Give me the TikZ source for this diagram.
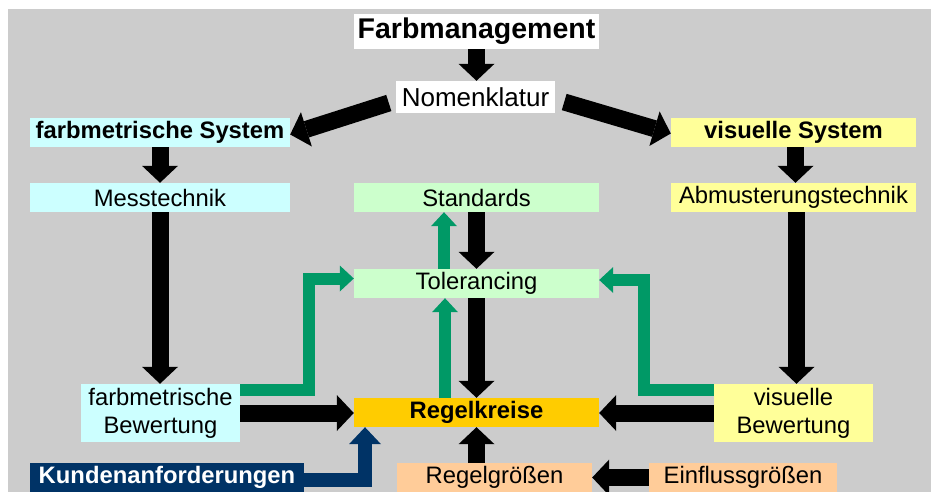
\documentclass[tikz,border=0pt]{standalone}
\usepackage{fontspec}
\setmainfont{Liberation Sans}
\usepackage{tikz}
\usepackage{xcolor}
\usetikzlibrary{arrows.meta}
\definecolor{fmgray}{HTML}{CCCCCC}
\definecolor{fmcyan}{HTML}{CCFFFF}
\definecolor{fmyellow}{HTML}{FFFF99}
\definecolor{fmmint}{HTML}{CCFFCC}
\definecolor{fmgold}{HTML}{FFCC00}
\definecolor{fmpeach}{HTML}{FFCC99}
\definecolor{fmnavy}{HTML}{003366}
\definecolor{fmgreen}{HTML}{009966}
\tikzset{
  box/.style={inner sep=0pt, minimum height=29pt, align=center, font=\fontsize{23.8}{28}\selectfont},
  boldbox/.style={box, font=\fontsize{23.8}{28}\selectfont\bfseries},
  flow/.style={line width=17pt, draw=black, -{Triangle[length=17pt, width=36pt, line width=0pt]}},
  back/.style={line width=12pt, draw=fmgreen, -{Triangle[length=14pt, width=26pt, line width=0pt]}},
  cust/.style={line width=14pt, draw=fmnavy, -{Triangle[length=17pt, width=32pt, line width=0pt]}}
}

\begin{document}
\begin{tikzpicture}[x=1pt, y=-1pt]
  \useasboundingbox (0,0) rectangle (931,492);
  \fill[fmgray] (8,9) rectangle (931,492);
  \node[boldbox, fill=white, minimum width=245pt, minimum height=35pt, font=\fontsize{28.5}{30}\selectfont\bfseries] (fm) at (476.5,31.5) {Farbmanagement};
  \node[box, fill=white, minimum width=159pt, minimum height=32pt, font=\fontsize{26}{28}\selectfont] (nom) at (475.5,97) {Nomenklatur};
  \node[boldbox, fill=fmcyan, minimum width=260pt] (fsys) at (160,132.5) {farbmetrische System};
  \node[boldbox, fill=fmyellow, minimum width=245pt] (vsys) at (793.5,132.5) {visuelle System};
  \node[box, fill=fmcyan, minimum width=260pt] (mess) at (160,197.5) {Messtechnik};
  \node[box, fill=fmmint, minimum width=245pt] (std) at (476.5,197.5) {Standards};
  \node[box, fill=fmyellow, minimum width=245pt] (abm) at (793.5,197.5) {Abmusterungstechnik};
  \node[box, fill=fmmint, minimum width=245pt] (tol) at (476.5,283.5) {Tolerancing};
  \node[box, fill=fmcyan, minimum width=159pt, minimum height=58pt] (fbew) at (160.5,413) {farbmetrische\\Bewertung};
  \node[boldbox, fill=fmgold, minimum width=245pt] (reg) at (476.5,412.5) {Regelkreise};
  \node[box, fill=fmyellow, minimum width=159pt, minimum height=58pt] (vbew) at (793.5,413) {visuelle\\Bewertung};
  \node[boldbox, fill=fmnavy, text=white, minimum width=274pt] (kunde) at (167,477.5) {Kundenanforderungen};
  \node[box, fill=fmpeach, minimum width=195pt] (rgr) at (494.5,477.5) {Regelgrößen};
  \node[box, fill=fmpeach, minimum width=188pt] (einf) at (743,477.5) {Einflussgrößen};

  \draw[flow] (fm.south) -- (fm.south |- nom.north);
  \draw[flow] ([shift={(-7,6)}]nom.west) -- ([yshift=-2pt]fsys.east);
  \draw[flow] ([shift={(9,5)}]nom.east) -- ([yshift=-1pt]vsys.west);
  \draw[flow] (fsys.south) -- (fsys.south |- mess.north);
  \draw[flow] ([xshift=2pt]vsys.south) -- ([xshift=2pt]vsys.south |- abm.north);
  \draw[flow] (mess.south) -- (mess.south |- fbew.north);
  \draw[flow] ([xshift=3pt]abm.south) -- ([xshift=3pt]abm.south |- vbew.north);
  \draw[flow] (std.south) -- (tol.north);
  \draw[flow] (tol.south) -- (reg.north);
  \draw[flow] (rgr.north -| reg.south) -- (reg.south);
  \draw[flow] (fbew.east) -- (fbew.east -| reg.west);
  \draw[flow] (vbew.west) -- (vbew.west -| reg.east);
  \draw[flow] (einf.west) -- (einf.west -| rgr.east);

  \draw[back] ([yshift=-6.5pt]fbew.north east) -- ++(69,0) |- ([yshift=5pt]tol.west);
  \draw[back] ([yshift=-6.5pt]vbew.north west) -- ++(-70,0) |- ([yshift=3.5pt]tol.east);
  \draw[back] ([xshift=-31.5pt]reg.north) -- ([xshift=-31.5pt]tol.south);
  \draw[back] ([xshift=-32.5pt]tol.north) -- ([xshift=-32.5pt]std.south);

  \draw[cust] ([yshift=-2pt]kunde.east) -| ([xshift=-111.5pt]reg.south);
\end{tikzpicture}
\end{document}
